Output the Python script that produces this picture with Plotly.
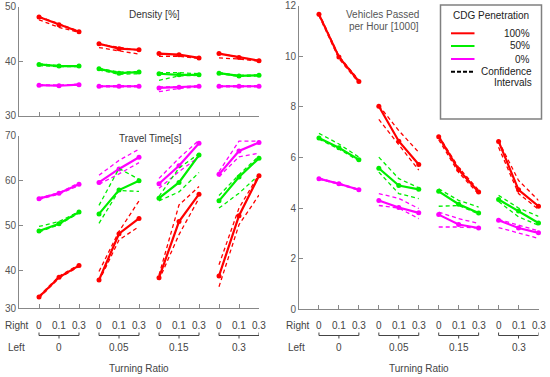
import plotly.graph_objects as go

W, H = 550, 377

# ---------------- data ----------------
right_ratio = ["0", "0.1", "0.3"] * 4
left_ratio = ["0", "0.05", "0.15", "0.3"]
positions = list(range(1, 13))
penetration = ["100%", "50%", "0%"]

# Density [%]
d100 = [48.1, 46.7, 45.4, 43.2, 42.3, 42.1, 41.4, 41.2, 40.6, 41.4, 40.7, 40.1]
d100_lo = [47.6, 46.2, 45.3, 42.5, 41.9, 41.3, 40.9, 40.9, 40.5, 40.6, 40.4, 40.0]
d100_hi = [48.2, 46.8, 45.5, 43.1, 42.6, 42.0, 41.3, 41.1, 40.6, 41.4, 40.8, 40.1]
d50 = [39.4, 39.1, 39.1, 38.6, 37.8, 38.0, 37.7, 37.5, 37.5, 37.8, 37.3, 37.4]
d50_lo = [39.2, 39.0, 39.0, 38.4, 37.6, 37.7, 36.5, 37.3, 37.4, 37.7, 37.2, 37.3]
d50_hi = [39.5, 39.2, 39.2, 38.7, 38.0, 38.1, 37.9, 37.9, 37.7, 37.9, 37.4, 37.5]
d0 = [35.6, 35.5, 35.7, 35.4, 35.4, 35.4, 35.1, 35.2, 35.4, 35.4, 35.4, 35.4]
d0_lo = [35.5, 35.5, 35.6, 35.3, 35.3, 35.3, 34.4, 35.0, 35.3, 35.3, 35.3, 35.3]
d0_hi = [35.7, 35.6, 35.8, 35.5, 35.5, 35.5, 35.3, 35.3, 35.5, 35.5, 35.5, 35.5]

# Travel Time [s]
t100 = [34.1, 38.5, 41.1, 37.9, 48.2, 51.6, 38.4, 50.9, 57.0, 38.8, 52.2, 61.1]
t100_lo = [33.9, 38.3, 40.9, 37.6, 46.8, 49.8, 37.9, 48.0, 56.1, 36.4, 50.2, 56.8]
t100_hi = [34.3, 38.7, 41.3, 39.8, 48.7, 55.5, 39.0, 54.6, 58.7, 41.3, 53.9, 61.4]
t50 = [48.8, 50.4, 53.0, 52.6, 57.9, 60.0, 56.1, 59.6, 65.7, 55.5, 60.8, 65.0]
t50_lo = [48.6, 50.2, 52.8, 50.5, 57.8, 57.6, 55.5, 57.5, 61.8, 53.9, 57.2, 61.3]
t50_hi = [49.8, 50.9, 53.1, 54.5, 62.7, 60.3, 56.5, 62.8, 66.0, 56.7, 61.3, 65.5]
t0 = [56.0, 57.2, 59.2, 59.6, 62.6, 65.2, 59.3, 63.3, 68.3, 61.4, 66.6, 68.5]
t0_lo = [55.8, 57.0, 58.9, 59.2, 61.5, 64.0, 58.3, 62.0, 65.3, 60.9, 65.3, 66.1]
t0_hi = [56.2, 57.3, 59.5, 61.2, 64.5, 67.0, 60.5, 65.0, 69.0, 62.0, 68.8, 68.8]

# Vehicles passed per hour [1000]
v100 = [11.65, 9.97, 9.0, 8.02, 6.64, 5.72, 6.82, 5.51, 4.63, 6.63, 4.72, 4.07]
v100_lo = [11.6, 9.9, 8.95, 7.5, 6.5, 5.5, 6.7, 5.4, 4.55, 6.4, 4.57, 3.95]
v100_hi = [11.7, 10.0, 9.05, 8.05, 7.06, 6.2, 6.85, 5.6, 4.7, 6.65, 5.09, 4.3]
v50 = [6.77, 6.38, 5.91, 5.57, 4.89, 4.74, 4.66, 4.15, 3.80, 4.34, 3.88, 3.41]
v50_lo = [6.72, 6.33, 5.86, 5.42, 4.57, 4.37, 4.07, 4.1, 3.77, 4.26, 3.65, 3.32]
v50_hi = [6.95, 6.53, 6.01, 6.01, 5.16, 4.8, 4.76, 4.3, 4.04, 4.5, 4.0, 3.67]
v0 = [5.16, 4.96, 4.72, 4.30, 4.02, 3.81, 3.74, 3.35, 3.21, 3.52, 3.21, 3.02]
v0_lo = [5.14, 4.94, 4.70, 4.10, 4.0, 3.58, 3.25, 3.25, 3.21, 3.23, 3.02, 2.8]
v0_hi = [5.18, 4.98, 4.74, 4.57, 4.38, 3.98, 3.84, 3.58, 3.39, 3.55, 3.32, 3.1]

colors = {"100%": "#ff0000", "50%": "#00ee00", "0%": "#ff00ff"}

# ---------------- helpers ----------------
def fx(px):
    return px / W

def fy(py):
    return 1 - py / H

def seg(vals):
    xs, ys = [], []
    for i, (p, v) in enumerate(zip(positions, vals)):
        xs.append(p)
        ys.append(v)
        if i % 3 == 2:
            xs.append(None)
            ys.append(None)
    return xs, ys

FONT = "Liberation Sans, Arial, sans-serif"
fig = go.Figure()

panels = [
    ("x", "y", {"100%": (d100, d100_lo, d100_hi), "50%": (d50, d50_lo, d50_hi), "0%": (d0, d0_lo, d0_hi)}),
    ("x2", "y2", {"100%": (t100, t100_lo, t100_hi), "50%": (t50, t50_lo, t50_hi), "0%": (t0, t0_lo, t0_hi)}),
    ("x3", "y3", {"100%": (v100, v100_lo, v100_hi), "50%": (v50, v50_lo, v50_hi), "0%": (v0, v0_lo, v0_hi)}),
]

for xa, ya, series in panels:
    for name in ["0%", "50%", "100%"]:
        mean, lo, hi = series[name]
        c = colors[name]
        for band in (lo, hi):
            xs, ys = seg(band)
            fig.add_trace(go.Scatter(x=xs, y=ys, xaxis=xa, yaxis=ya, mode="lines",
                                     line=dict(color=c, width=1.3, dash="4px,3px"),
                                     showlegend=False, hoverinfo="skip", cliponaxis=False))
        xs, ys = seg(mean)
        fig.add_trace(go.Scatter(x=xs, y=ys, xaxis=xa, yaxis=ya, mode="lines+markers",
                                 line=dict(color=c, width=2.2),
                                 marker=dict(color=c, size=5),
                                 name=name, showlegend=False, cliponaxis=False))

axis_common = dict(showline=True, linecolor="#888888", linewidth=1, ticks="inside",
                   ticklen=4, tickcolor="#888888", showgrid=False, zeroline=False,
                   automargin=False, ticklabeloverflow="allow",
                   tickfont=dict(family=FONT, size=10, color="#555555"))
xcommon = dict(axis_common, range=[0, 12], tickvals=positions, showticklabels=False)

fig.update_layout(
    width=W, height=H,
    margin=dict(l=0, r=0, t=0, b=0, pad=0),
    paper_bgcolor="white", plot_bgcolor="white",
    showlegend=False,
    xaxis=dict(xcommon, domain=[fx(19), fx(259)], anchor="y"),
    yaxis=dict(axis_common, domain=[fy(115.7), fy(6.7)], range=[30, 50],
               tickvals=[30, 40, 50], anchor="x"),
    xaxis2=dict(xcommon, domain=[fx(19), fx(259)], anchor="y2"),
    yaxis2=dict(axis_common, domain=[fy(308.3), fy(135.7)], range=[31.6, 70],
                tickvals=[31.6, 40, 50, 60, 70], ticktext=["30", "40", "50", "60", "70"],
                anchor="x2"),
    xaxis3=dict(xcommon, domain=[fx(299), fx(538.5)], anchor="y3"),
    yaxis3=dict(axis_common, domain=[fy(309.3), fy(5.5)], range=[0, 12],
                tickvals=[0, 2, 4, 6, 8, 10, 12], anchor="x3"),
)

annotations = []
shapes = []

def txt(x, y, text, xref="paper", xanchor="center", color="#444444", size=10):
    annotations.append(dict(x=x, y=y, xref=xref, yref="paper", text=text, showarrow=False,
                            xanchor=xanchor, yanchor="middle",
                            font=dict(family=FONT, size=size, color=color)))

# panel titles
txt(fx(154), fy(15), "Density [%]", color="#333333")
txt(fx(150), fy(138.5), "Travel Time[s]", color="#333333")
txt(fx(382.5), fy(15), "Vehicles Passed", color="#555555")
txt(fx(383.5), fy(27), "per Hour [1000]", color="#555555")

# bottom tick label rows
for xa, x0 in (("x2", 0), ("x3", 280)):
    txt(fx(x0 + 17.5), fy(325.5), "Right")
    txt(fx(x0 + 16), fy(347), "Left")
    for p, lab in zip(positions, right_ratio):
        txt(p, fy(325.5), lab, xref=xa)
    for g, lab in enumerate(left_ratio):
        p1, p2, p3 = positions[3 * g:3 * g + 3]
        txt(p2, fy(347), lab, xref=xa)
        ya, yb, yc = fy(332.5), fy(335.5), fy(338.5)
        shapes.append(dict(type="path", xref=xa, yref="paper",
                           path=f"M {p1},{ya} L {p1},{yb} L {p3},{yb} L {p3},{ya} M {p2},{yb} L {p2},{yc}",
                           line=dict(color="#444444", width=1)))
    txt(fx(x0 + 139), fy(368), "Turning Ratio")

# legend box
shapes.append(dict(type="rect", xref="paper", yref="paper", x0=fx(440.5), x1=fx(541.5),
                   y0=fy(119), y1=fy(5), line=dict(color="#808080", width=1.5),
                   fillcolor="white", layer="below"))
txt(fx(451), fy(16), "CDG Penetration", xanchor="left", color="#222222")
for name, yy in zip(penetration, [33.3, 46, 59]):
    shapes.append(dict(type="line", xref="paper", yref="paper", x0=fx(451), x1=fx(474.5),
                       y0=fy(yy), y1=fy(yy), line=dict(color=colors[name], width=2)))
    txt(fx(531.5), fy(yy), name, xanchor="right", color="#222222")
shapes.append(dict(type="line", xref="paper", yref="paper", x0=fx(451), x1=fx(474.5),
                   y0=fy(71.7), y1=fy(71.7), line=dict(color="black", width=2, dash="4px,2px")))
txt(fx(534), fy(71.7), "Confidence", xanchor="right", color="#222222")
txt(fx(534), fy(82.7), "Intervals", xanchor="right", color="#222222")

fig.update_layout(annotations=annotations, shapes=shapes)
fig.write_html("out.html", config={"displayModeBar": False},
               post_script="document.body.style.margin='0';")
